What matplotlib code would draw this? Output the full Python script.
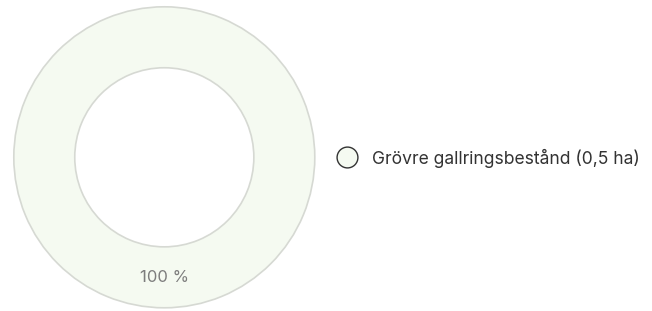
"""Single-category donut with side legend."""
import matplotlib.pyplot as plt
from matplotlib.lines import Line2D

labels = ["Grövre gallringsbestånd (0,5 ha)"]
values = [100]
pct_labels = ["100 %"]

fill = "#f5faf1"
edge = "#d6d9d3"

plt.rcParams["font.family"] = ["Inter", "DejaVu Sans"]

W, H = 652, 311
fig = plt.figure(figsize=(W / 100, H / 100), dpi=100)

# donut axes placed in pixel coords: center ~(164, 157), outer radius ~152
cx, cy, r = 164.3, 157.3, 152.0
ax = fig.add_axes([(cx - r) / W, (H - cy - r) / H, 2 * r / W, 2 * r / H])
wedges, _, autotexts = ax.pie(
    values, radius=1.0, startangle=90, counterclock=False,
    colors=[fill], autopct=lambda p: pct_labels[0], pctdistance=0.8,
    wedgeprops=dict(width=0.405, edgecolor=edge, linewidth=1.2),
    textprops=dict(color="#7d7d7d", fontsize=12))
ax.set_xlim(-1.01, 1.01); ax.set_ylim(-1.01, 1.01)
ax.set_aspect("equal")
ax.axis("off")

handles = [Line2D([], [], marker="o", linestyle="none", markersize=15,
                  markerfacecolor=fill, markeredgecolor="#333333",
                  markeredgewidth=1.0)]
fig.legend(handles, labels, loc="center left",
           bbox_to_anchor=(329 / W, 1 - 158 / H), frameon=False,
           handletextpad=0.45, fontsize=12.6, labelcolor="#333333",
           borderaxespad=0, borderpad=0)

fig.savefig("out.png", dpi=100)
